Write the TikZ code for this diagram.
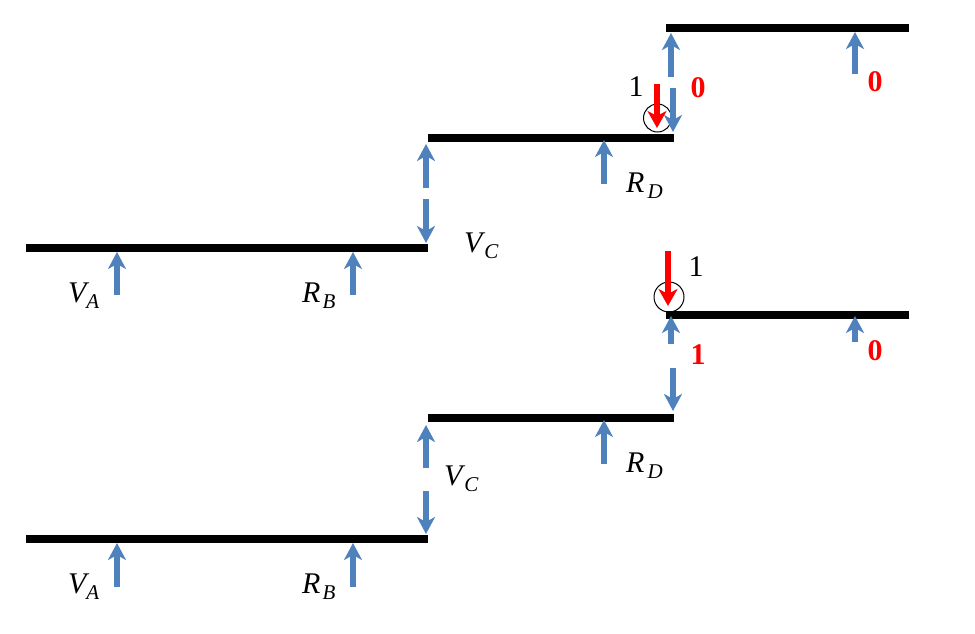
\documentclass[tikz,border=0pt]{standalone}
\usepackage{fontspec}
\setmainfont{Liberation Serif}
\usetikzlibrary{arrows.meta}
\definecolor{arrowblue}{HTML}{4F81BD}
\newcommand{\sublab}[3]{\textit{#1}\kern#3pt\raisebox{-6pt}{\fontsize{21}{21}\selectfont\textit{#2}}}
\tikzset{
  x=1pt,y=-1pt,
  bar/.style={line width=8pt,black},
  bluearrow/.style={line width=6pt,arrowblue,-{Stealth[length=17pt,width=18pt,inset=5pt]}},
  redarrow/.style={line width=6pt,red,-{Stealth[length=17pt,width=19pt,inset=5pt]}},
  ring/.style={circle,draw=black,line width=1pt,inner sep=0pt,fill=none},
  symlab/.style={anchor=base west,inner sep=0pt,font=\fontsize{30}{30}\selectfont},
  digit/.style={anchor=base,inner sep=0pt,font=\fontsize{30}{30}\selectfont},
  reddigit/.style={digit,text=red,font=\fontsize{30}{30}\selectfont\bfseries},
}
\begin{document}
\begin{tikzpicture}
\useasboundingbox (0,0) rectangle (975,634);
% bars
\foreach \i/\xa/\xb/\yy in {a/666/909/28,b/428/674/138,c/26/428/248,d/666/909/315,e/428/674/418,f/26/428/539}{
  \coordinate (bar\i L) at (\xa,\yy);
  \coordinate (bar\i R) at (\xb,\yy);
  \draw[bar] (bar\i L) -- (bar\i R);
}
% circles
\node[ring,minimum size=28pt] (ringtop) at (657.5,118) {};
\node[ring,minimum size=30pt] (ringlow) at (669,297) {};
% blue arrows: name/x/tail y/tip y
\foreach \n/\xx/\ya/\yb in {
  u1/671/77/33, d1/673/88/132, r1/855/74/32, rd1/604/184/140,
  vu1/426/188/144, vd1/426/199/243, va1/117/295/252, rb1/353/295/252,
  u2/671/344/316, d2/673/368/411, r2/855/342/316, rd2/604/464/420,
  vu2/426/468/425, vd2/426/491/534, va2/117/587/543, rb2/353/587/543}{
  \coordinate (\n tail) at (\xx,\ya);
  \coordinate (\n tip) at (\xx,\yb);
  \draw[bluearrow] (\n tail) -- (\n tip);
}
% red arrows
\coordinate (red1tail) at (657,84);
\coordinate (red1tip) at (657,128);
\draw[redarrow] (red1tail) -- (red1tip);
\coordinate (red2tail) at (668,251);
\coordinate (red2tip) at (668,306);
\draw[redarrow] (red2tail) -- (red2tip);
% labels
\node[symlab] (lva1) at (68,302) {\sublab{V}{A}{-3}};
\node[symlab] (lrb1) at (302,302) {\sublab{R}{B}{2}};
\node[symlab] (lvc1) at (464,252) {\sublab{V}{C}{-1}};
\node[symlab] (lrd1) at (626,192) {\sublab{R}{D}{3}};
\node[symlab] (lva2) at (68,593) {\sublab{V}{A}{-3}};
\node[symlab] (lrb2) at (302,593) {\sublab{R}{B}{2}};
\node[symlab] (lvc2) at (444,485) {\sublab{V}{C}{-1}};
\node[symlab] (lrd2) at (626,472) {\sublab{R}{D}{3}};
\node[digit] (n1a) at (636,96) {1};
\node[digit] (n1b) at (696,276) {1};
\node[reddigit] (n0a) at (698,97) {0};
\node[reddigit] (n0b) at (875,92) {0};
\node[reddigit] (n1c) at (698,364) {1};
\node[reddigit] (n0c) at (875,360) {0};
\end{tikzpicture}
\end{document}
